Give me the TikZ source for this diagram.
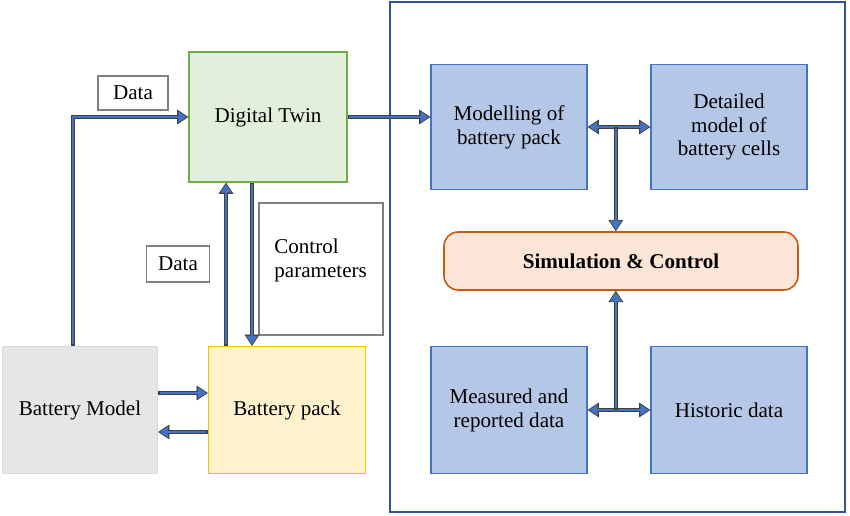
\documentclass[tikz,border=0pt]{standalone}
\usepackage{fontspec}
\setmainfont{Liberation Serif}
\usetikzlibrary{arrows.meta,calc}

\definecolor{arrblue}{HTML}{4472C4}
\definecolor{arrdark}{HTML}{3F3F3F}
\definecolor{frameblue}{HTML}{2F5597}
\definecolor{twinfill}{HTML}{E2EFDA}
\definecolor{twinline}{HTML}{70AD47}
\definecolor{packfill}{HTML}{FFF2CC}
\definecolor{packline}{HTML}{FFC000}
\definecolor{simfill}{HTML}{FBE5D6}
\definecolor{simline}{HTML}{C55A11}

\begin{document}
\begin{tikzpicture}[x=0.02cm,y=-0.02cm,
    font=\fontsize{12}{13.6}\selectfont,
    box/.style={draw,line width=0.8pt,minimum width=3.16cm,minimum height=2.6cm,align=center,inner sep=2pt},
    bluebox/.style={box,draw=arrblue,fill=arrblue!40,minimum width=3.12cm,minimum height=2.5cm},
    tag/.style={draw=black!50,line width=0.6pt,fill=white,inner sep=0pt},
    flow/.style={draw=arrdark,line width=2.2pt,
        >={Triangle[length=6.4pt,width=8.4pt,line width=0.4pt]},#1,
        postaction={draw=arrblue,line width=1.1pt,
            >={Triangle[length=4.8pt,width=6.2pt]},#1,
            shorten >=0.9pt,shorten <=0.9pt}}]
    \useasboundingbox (0,0) rectangle (850,516);
    % right panel
    \draw[frameblue,line width=1pt] (390,2) rectangle (845,512);

    \node[box,draw=twinline,fill=twinfill](twin)at(268,117){Digital Twin};
    \node[box,draw=black!15,fill={rgb,255:red,231;green,230;blue,230},minimum width=3.1cm,minimum height=2.54cm](bmodel)at(80,410){Battery Model};
    \node[box,draw=packline,fill=packfill,minimum width=3.14cm,minimum height=2.54cm](pack)at(287,410){Battery pack};

    \node[tag,minimum width=1.4cm,minimum height=0.68cm](data1)at(133,93){Data};
    \node[tag,minimum width=1.26cm,minimum height=0.72cm](data2)at(178,264){Data};
    \node[tag,minimum width=2.48cm,minimum height=2.64cm](ctrlbox)at(321,269){};
    \node[align=left,anchor=west,inner sep=0pt](ctrl)at(274,260){Control\\parameters};

    \node[bluebox](mpack)at(509,127){Modelling of\\battery pack};
    \node[bluebox](detail)at(729,127){Detailed\\model of\\battery cells};
    \node[bluebox,minimum height=2.54cm](measured)at(509,410){Measured and\\reported data};
    \node[bluebox,minimum height=2.54cm](hist)at(729,410){Historic data};
    \node[draw=simline,fill=simfill,line width=0.9pt,rounded corners=8pt,minimum width=7.08cm,minimum height=1.16cm,font=\fontsize{12}{14}\selectfont\bfseries](sim)at(621,261){Simulation \& Control};

    \coordinate (tj) at ($(mpack.east)!0.45!(detail.west)$);
    \coordinate (bj) at ($(measured.east)!0.45!(hist.west)$);

    \draw[flow=->] ([xshift=-0.14cm]bmodel.north) |- (twin.west);
    \draw[flow=->] (twin.east) -- (twin.east -| mpack.west);
    \draw[flow=->] ([xshift=-0.84cm]twin.south |- pack.north) -- ([xshift=-0.84cm]twin.south);
    \draw[flow=->] ([xshift=-0.32cm]twin.south) -- ([xshift=-0.32cm]twin.south |- pack.north);
    \draw[flow=->] ([yshift=0.34cm]bmodel.east) -- ([yshift=0.34cm]bmodel.east -| pack.west);
    \draw[flow=->] ([yshift=-0.44cm]pack.west) -- ([yshift=-0.44cm]pack.west -| bmodel.east);
    \draw[flow=<->] (mpack.east) -- (detail.west);
    \draw[flow=->] (tj) -- (tj |- sim.north);
    \draw[flow=<->] (measured.east) -- (hist.west);
    \draw[flow=->] (bj) -- (bj |- sim.south);
\end{tikzpicture}
\end{document}
